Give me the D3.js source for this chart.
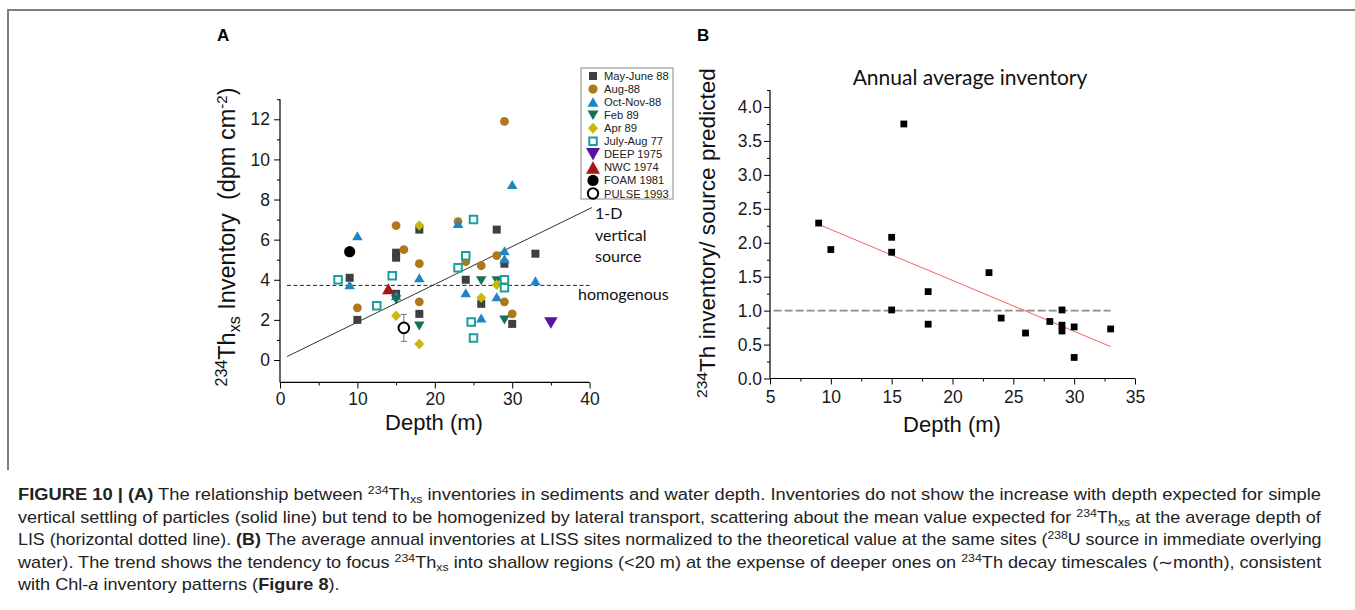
<!DOCTYPE html>
<html><head><meta charset="utf-8">
<script src="https://cdn.jsdelivr.net/npm/d3@7"></script>
<style>
html,body{margin:0;padding:0;background:#fff;}
svg{display:block;}
text{white-space:pre;}
</style></head><body>
<svg id="c" width="1355" height="610"></svg>
<script>
// ---------------- DATA ----------------
// Panel A: [depth (m), 234Th_xs inventory (dpm cm-2)]
const seriesNames = ["May-June 88","Aug-88","Oct-Nov-88","Feb 89","Apr 89","July-Aug 77","DEEP 1975","NWC 1974","FOAM 1981","PULSE 1993"];
const mayJune88 = [[9,4.1],[10,2.0],[15,5.1],[15,5.35],[15,3.3],[18,6.5],[18,2.3],[24,4.0],[26,2.8],[28,6.5],[29,4.8],[30,1.8],[33,5.3]];
const aug88 = [[10,2.6],[15,6.7],[16,5.5],[18,4.8],[18,2.9],[23,6.9],[24,4.9],[26,4.7],[28,5.2],[29,11.9],[29,2.9],[30,2.3]];
const octNov88 = [[9,3.75],[10,6.2],[15,3.2],[18,4.1],[23,6.8],[24,3.35],[26,2.1],[28,3.15],[29,5.45],[29,5.05],[30,8.75],[33,3.95]];
const feb89 = [[15,3.0],[18,1.7],[26,3.95],[28,3.95],[29,2.0]];
const apr89 = [[15,2.2],[18,6.7],[18,0.8],[26,3.1],[28,3.75]];
const julyAug77 = [[7.5,4.0],[12.5,2.7],[14.5,4.2],[23,4.6],[24,5.2],[25,7.0],[24.7,1.9],[25,1.1],[29,4.0],[29,3.6]];
const deep1975 = [[35,1.85]];
const nwc1974 = [[14,3.55]];
const foam1981 = [[9,5.4]];
const pulse1993 = [[16,1.6]];
const pulseError = [0.67];
const verticalSourceLine = [[0.9,0.17],[40.3,7.6]];
const homogenousLine = [[0.9,3.72],[40,3.72]];
const xTicksA = [0,10,20,30,40];
const yTicksA = [0,2,4,6,8,10,12];

// Panel B
const bDepth = [9,10,15,15,15,16,18,18,23,24,26,28,29,29,29,30,30,33];
const bRatio = [2.29,1.90,2.08,1.86,1.01,3.75,1.28,0.80,1.56,0.89,0.67,0.84,1.01,0.785,0.70,0.76,0.31,0.73];
const bFit = [[9,2.27],[33,0.47]];
const bRef = [[5.3,1],[33,1]];
const xTicksB = [5,10,15,20,25,30,35];
const yTicksB = [0,0.5,1,1.5,2,2.5,3,3.5,4];

// ---------------- DRAW ----------------
const svg = d3.select("#c");
const AR = "Liberation Sans, Arial, Helvetica, sans-serif";
const CAL = "Lato, 'Open Sans', sans-serif";
svg.append("rect").attr("width",1355).attr("height",610).attr("fill","#fff");
svg.append("path").attr("d","M8,470V10H1355").attr("fill","none").attr("stroke","#7d7d7d").attr("stroke-width",2);

const shp = {
  square: s => `M${-s/2},${-s/2}h${s}v${s}h${-s}Z`,
  triUp: (w,h) => `M0,${-h/2}L${w/2},${h/2}L${-w/2},${h/2}Z`,
  triDown: (w,h) => `M0,${h/2}L${w/2},${-h/2}L${-w/2},${-h/2}Z`,
  diamond: (w,h) => `M0,${-h/2}L${w/2},0L0,${h/2}L${-w/2},0Z`
};

function drawAxes(g, x, y, xt, yt, xMinor, yMinor, yLo, yHi, xLo, xHi, fmtY, padX, padY){
  const ax = g.append("g").attr("transform",`translate(0,${y(yLo)})`)
    .call(d3.axisBottom(x).tickValues(xt).tickSize(6).tickSizeOuter(0).tickPadding(padX));
  ax.select(".domain").remove();
  const axm = g.append("g").attr("transform",`translate(0,${y(yLo)})`)
    .call(d3.axisBottom(x).tickValues(xMinor).tickSize(3).tickFormat(""));
  axm.select(".domain").remove();
  const ay = g.append("g").attr("transform",`translate(${x(xLo)},0)`)
    .call(d3.axisLeft(y).tickValues(yt).tickSize(6).tickSizeOuter(0).tickPadding(padY).tickFormat(fmtY));
  ay.select(".domain").remove();
  const aym = g.append("g").attr("transform",`translate(${x(xLo)},0)`)
    .call(d3.axisLeft(y).tickValues(yMinor).tickSize(3).tickFormat(""));
  aym.select(".domain").remove();
  g.append("line").attr("x1",x(xLo)).attr("x2",x(xHi)).attr("y1",y(yLo)).attr("y2",y(yLo)).attr("stroke","#000").attr("stroke-width",1.2);
  g.append("line").attr("x1",x(xLo)).attr("x2",x(xLo)).attr("y1",y(yLo)).attr("y2",y(yHi)).attr("stroke","#000").attr("stroke-width",1.2);
  g.selectAll(".tick line").attr("stroke","#000");
  g.selectAll(".tick text").attr("font-family",AR).attr("font-size",17.5).attr("fill","#1a1a1a");
}

// ---- Panel A ----
const xA = d3.scaleLinear().domain([0,40]).range([280,589.6]);
const yA = d3.scaleLinear().domain([0,12]).range([360,119.3]);
const gA = svg.append("g");
drawAxes(gA, xA, yA, xTicksA, yTicksA, [5,15,25,35], [1,3,5,7,9,11,13], -1.12, 13, 0, 40, d3.format("d"), 4.5, 4);

const line = (x,y) => d3.line().x(d=>x(d[0])).y(d=>y(d[1]));
gA.append("path").attr("d", line(xA,yA)(homogenousLine)).attr("stroke","#222").attr("stroke-width",1).attr("stroke-dasharray","4,2.5").attr("fill","none");
gA.append("path").attr("d", line(xA,yA)(verticalSourceLine)).attr("stroke","#333").attr("stroke-width",1).attr("fill","none");

const seriesStyle = [
  {data:mayJune88, path:shp.square(8), fill:"#3f3f3f", stroke:"none", lp:shp.square(8)},
  {data:aug88, circle:4.4, fill:"#b07818", stroke:"none", lc:4.6},
  {data:octNov88, path:shp.triUp(10.5,9), fill:"#1f86c6", stroke:"none", lp:shp.triUp(11,9.5)},
  {data:feb89, path:shp.triDown(10.5,9), fill:"#17705a", stroke:"none", lp:shp.triDown(11,9.5)},
  {data:apr89, path:shp.diamond(10,10.5), fill:"#c9b70c", stroke:"none", lp:shp.diamond(10,11)},
  {data:julyAug77, path:shp.square(7.5), fill:"#fff", stroke:"#1b9e9e", sw:2, lp:shp.square(7.5)},
  {data:deep1975, path:shp.triDown(13.5,11.5), fill:"#5b12a0", stroke:"none", lp:shp.triDown(14,12.5)},
  {data:nwc1974, path:shp.triUp(12.5,11), fill:"#a31717", stroke:"none", lp:shp.triUp(14,12.5)},
  {data:foam1981, circle:5.6, fill:"#000", stroke:"none", lc:5.6},
  {data:pulse1993, circle:5.3, fill:"#fff", stroke:"#000", sw:2, lc:5.2}
];

// PULSE error bar
pulse1993.forEach((d,i)=>{
  const e = pulseError[i];
  const eg = gA.append("g").attr("stroke","#777").attr("stroke-width",1);
  eg.append("line").attr("x1",xA(d[0])).attr("x2",xA(d[0])).attr("y1",yA(d[1]-e)).attr("y2",yA(d[1]+e));
  eg.append("line").attr("x1",xA(d[0])-3).attr("x2",xA(d[0])+3).attr("y1",yA(d[1]-e)).attr("y2",yA(d[1]-e));
  eg.append("line").attr("x1",xA(d[0])-3).attr("x2",xA(d[0])+3).attr("y1",yA(d[1]+e)).attr("y2",yA(d[1]+e));
});

seriesStyle.forEach(s=>{
  const sel = gA.append("g").selectAll("x").data(s.data).enter();
  if(s.circle){
    sel.append("circle").attr("cx",d=>xA(d[0])).attr("cy",d=>yA(d[1])).attr("r",s.circle)
      .attr("fill",s.fill).attr("stroke",s.stroke).attr("stroke-width",s.sw||0);
  } else {
    sel.append("path").attr("d",s.path).attr("transform",d=>`translate(${xA(d[0])},${yA(d[1])})`)
      .attr("fill",s.fill).attr("stroke",s.stroke).attr("stroke-width",s.sw||0);
  }
});

// legend
const lg = svg.append("g");
lg.append("rect").attr("x",581).attr("y",68).attr("width",92).attr("height",131).attr("fill","#fff").attr("stroke","#8a8a8a").attr("stroke-width",1);
const ly = d3.scalePoint().domain(seriesNames).range([76,193.5]);
seriesStyle.forEach((s,i)=>{
  const cy = ly(seriesNames[i]);
  if(s.lc){
    lg.append("circle").attr("cx",593).attr("cy",cy).attr("r",s.lc).attr("fill",s.fill).attr("stroke",s.stroke).attr("stroke-width",s.sw||0);
  } else {
    lg.append("path").attr("d",s.lp).attr("transform",`translate(593,${cy})`).attr("fill",s.fill).attr("stroke",s.stroke).attr("stroke-width",s.sw||0);
  }
  lg.append("text").attr("x",604).attr("y",cy+4).attr("font-family",AR).attr("font-size",11.2).attr("fill","#222").text(seriesNames[i]);
});

// annotations
const ann = [["1-D",595,219],["vertical",595,241],["source",595,262],["homogenous",578,300]];
ann.forEach(a=> gA.append("text").attr("x",a[1]).attr("y",a[2]).attr("font-family",CAL).attr("font-size",16).attr("fill","#111").text(a[0]));

// panel A labels
svg.append("text").attr("x",217).attr("y",41).attr("font-family",AR).attr("font-weight","bold").attr("font-size",17).text("A");
gA.append("text").attr("x",434).attr("y",430).attr("text-anchor","middle").attr("font-family",AR).attr("font-size",22).attr("fill","#111").text("Depth (m)");
const yl = gA.append("text").attr("transform","translate(235,237) rotate(-90)").attr("text-anchor","middle").attr("font-family",AR).attr("fill","#111");
yl.append("tspan").attr("font-size",16).attr("dy",-8).text("234");
yl.append("tspan").attr("font-size",23.5).attr("dy",8).text("Th");
yl.append("tspan").attr("font-size",16).attr("dy",5).text("xs");
yl.append("tspan").attr("font-size",23.5).attr("dy",-5).text(" Inventory  (dpm cm");
yl.append("tspan").attr("font-size",15).attr("dy",-8).text("-2");
yl.append("tspan").attr("font-size",23.5).attr("dy",8).text(")");

// ---- Panel B ----
const xB = d3.scaleLinear().domain([5,35]).range([770,1135]);
const yB = d3.scaleLinear().domain([0,4]).range([378.5,107]);
const gB = svg.append("g");
drawAxes(gB, xB, yB, xTicksB, yTicksB, d3.range(7.5,35,5), d3.range(0.25,4.5,0.5), 0, 4.25, 5, 35, d3.format(".1f"), 6, 2);
gB.append("path").attr("d", line(xB,yB)(bRef)).attr("stroke","#8c8c8c").attr("stroke-width",1.6).attr("stroke-dasharray","8,3").attr("fill","none");
gB.append("path").attr("d", line(xB,yB)(bFit)).attr("stroke","#f06262").attr("stroke-width",1).attr("fill","none");
gB.append("g").selectAll("path").data(bDepth).enter().append("path")
  .attr("d",shp.square(6.8)).attr("transform",(d,i)=>`translate(${xB(d)},${yB(bRatio[i])})`).attr("fill","#000");

svg.append("text").attr("x",697).attr("y",41).attr("font-family",AR).attr("font-weight","bold").attr("font-size",17).text("B");
gB.append("text").attr("x",970).attr("y",85).attr("text-anchor","middle").attr("font-family",CAL).attr("font-size",21).attr("fill","#111").text("Annual average inventory");
gB.append("text").attr("x",952).attr("y",432).attr("text-anchor","middle").attr("font-family",AR).attr("font-size",22).attr("fill","#111").text("Depth (m)");
const yl2 = gB.append("text").attr("transform","translate(715,233) rotate(-90)").attr("text-anchor","middle").attr("font-family",AR).attr("fill","#111");
yl2.append("tspan").attr("font-size",15.5).attr("dy",-8).text("234");
yl2.append("tspan").attr("font-size",22.6).attr("dy",8).text("Th inventory/ source predicted");

// ---- Caption ----
const captionLines = [
 [["FIGURE 10 | ","b"],["(A)","b"],[" The relationship between "],["234","sup"],["Th"],["xs","sub"],[" inventories in sediments and water depth. Inventories do not show the increase with depth expected for simple"]],
 [["vertical settling of particles (solid line) but tend to be homogenized by lateral transport, scattering about the mean value expected for "],["234","sup"],["Th"],["xs","sub"],[" at the average depth of"]],
 [["LIS (horizontal dotted line). "],["(B)","b"],[" The average annual inventories at LISS sites normalized to the theoretical value at the same sites ("],["238","sup"],["U source in immediate overlying"]],
 [["water). The trend shows the tendency to focus "],["234","sup"],["Th"],["xs","sub"],[" into shallow regions (<20 m) at the expense of deeper ones on "],["234","sup"],["Th decay timescales (\u223Cmonth), consistent"]],
 [["with Chl-"],["a","i"],[" inventory patterns ("],["Figure 8","b"],[")."]]
];
const capBase = [500,522.5,545,567.5,590];
const capFS = 16;
const capTexts = [];
captionLines.forEach((segs,li)=>{
  const g = svg.append("g").attr("transform",`translate(18,${capBase[li]})`);
  const t = g.append("text").attr("x",0).attr("y",0).attr("font-family",AR).attr("font-size",capFS).attr("fill","#222");
  let shift = 0;
  segs.forEach(s=>{
    const ts = t.append("tspan").text(s[0]);
    let target = 0;
    if(s[1]==="b") ts.attr("font-weight","bold");
    if(s[1]==="i") ts.attr("font-style","italic");
    if(s[1]==="sup"){ ts.attr("font-size",capFS*0.68); target=-6; }
    if(s[1]==="sub"){ ts.attr("font-size",capFS*0.68); target=3; }
    ts.attr("dy", target-shift); shift = target;
  });
  capTexts.push({g,t});
});
const ratios = [];
capTexts.forEach((c,i)=>{
  const w = c.t.node().getComputedTextLength();
  if(i<4){ const r = 1304/w; ratios.push(r); c.g.attr("transform",`translate(18,${capBase[i]}) scale(${r},1)`); }
});
const avg = d3.mean(ratios);
capTexts[4].g.attr("transform",`translate(18,${capBase[4]}) scale(${avg},1)`);
</script>
</body></html>
